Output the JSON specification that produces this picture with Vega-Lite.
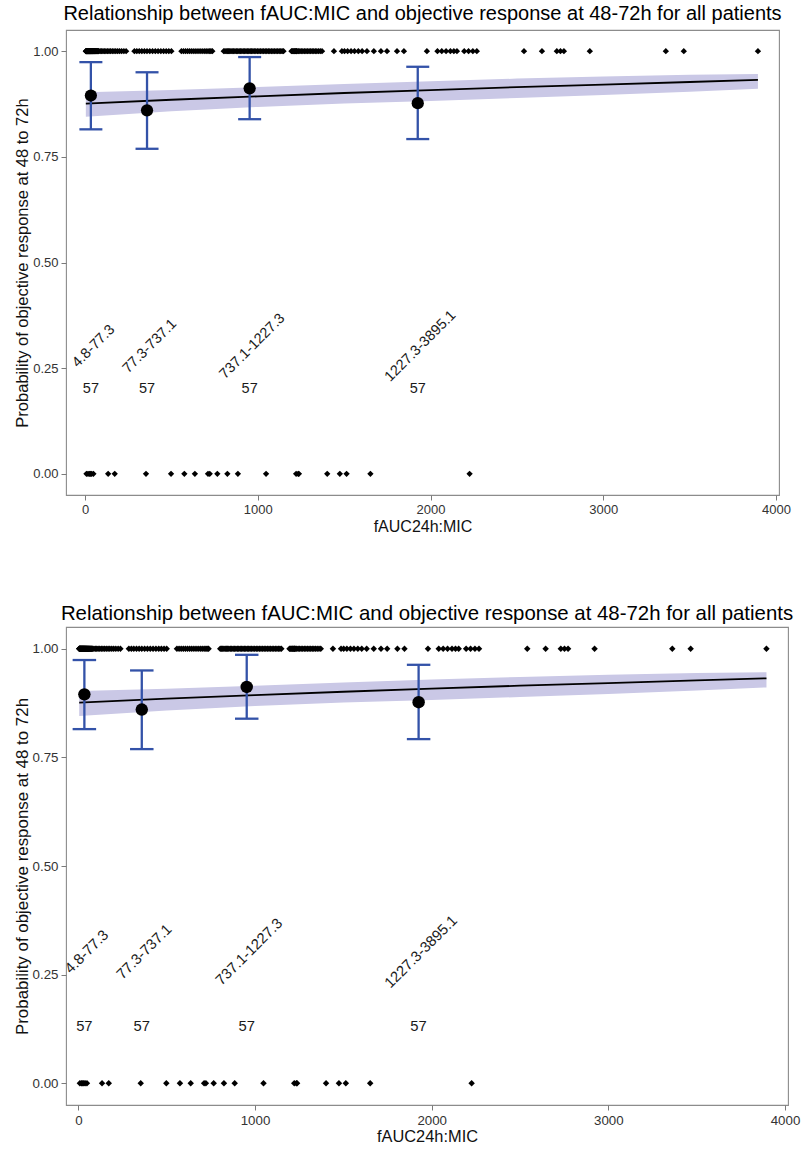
{
  "$schema": "https://vega.github.io/schema/vega-lite/v6.json",
  "padding": {"left": 12, "top": 3, "right": 2, "bottom": 3},
  "background": "white",
  "datasets": {
    "obs": [
      {"f":4.8,"r":1},{"f":5.9,"r":1},{"f":7.1,"r":1},{"f":8.0,"r":1},{"f":9.2,"r":1},{"f":10.1,"r":1},{"f":11.3,"r":1},{"f":12.4,"r":1},{"f":13.6,"r":1},{"f":14.5,"r":1},
      {"f":15.7,"r":1},{"f":16.8,"r":1},{"f":17.9,"r":1},{"f":19.1,"r":1},{"f":20.2,"r":1},{"f":21.4,"r":1},{"f":22.5,"r":1},{"f":23.7,"r":1},{"f":24.8,"r":1},{"f":26.0,"r":1},
      {"f":27.1,"r":1},{"f":28.3,"r":1},{"f":29.4,"r":1},{"f":30.6,"r":1},{"f":31.8,"r":1},{"f":33.1,"r":1},{"f":34.2,"r":1},{"f":35.5,"r":1},{"f":36.7,"r":1},{"f":38.0,"r":1},
      {"f":39.4,"r":1},{"f":40.8,"r":1},{"f":42.1,"r":1},{"f":43.6,"r":1},{"f":45.0,"r":1},{"f":46.5,"r":1},{"f":48.1,"r":1},{"f":49.7,"r":1},{"f":51.3,"r":1},{"f":53.0,"r":1},
      {"f":54.8,"r":1},{"f":56.6,"r":1},{"f":58.5,"r":1},{"f":60.4,"r":1},{"f":62.5,"r":1},{"f":64.7,"r":1},{"f":67.0,"r":1},{"f":69.4,"r":1},{"f":72.0,"r":1},{"f":74.6,"r":1},
      {"f":77.3,"r":1},
      {"f":8.5,"r":0},{"f":17.3,"r":0},{"f":25.0,"r":0},{"f":31.2,"r":0},{"f":38.4,"r":0},{"f":48.7,"r":0},
      {"f":80,"r":1},{"f":88,"r":1},{"f":96,"r":1},{"f":104,"r":1},{"f":112,"r":1},{"f":121,"r":1},{"f":130,"r":1},{"f":139,"r":1},{"f":148,"r":1},{"f":158,"r":1},
      {"f":168,"r":1},{"f":178,"r":1},{"f":189,"r":1},{"f":200,"r":1},{"f":212,"r":1},{"f":225,"r":1},{"f":238,"r":1},
      {"f":286,"r":1},{"f":300,"r":1},{"f":314,"r":1},{"f":329,"r":1},{"f":344,"r":1},{"f":359,"r":1},{"f":375,"r":1},{"f":391,"r":1},{"f":407,"r":1},{"f":423,"r":1},
      {"f":439,"r":1},{"f":455,"r":1},{"f":470,"r":1},{"f":485,"r":1},{"f":500,"r":1},
      {"f":558,"r":1},{"f":570,"r":1},{"f":582,"r":1},{"f":594,"r":1},{"f":606,"r":1},{"f":618,"r":1},{"f":630,"r":1},{"f":642,"r":1},{"f":654,"r":1},{"f":666,"r":1},
      {"f":678,"r":1},{"f":690,"r":1},{"f":701,"r":1},{"f":712,"r":1},{"f":722,"r":1},{"f":729,"r":1},{"f":737.1,"r":1},
      {"f":134,"r":0},{"f":172,"r":0},{"f":353,"r":0},{"f":498,"r":0},{"f":575,"r":0},{"f":636,"r":0},{"f":712,"r":0},{"f":722,"r":0},
      {"f":803,"r":1},{"f":810,"r":1},{"f":817,"r":1},{"f":824,"r":1},{"f":831,"r":1},{"f":838,"r":1},{"f":845,"r":1},{"f":852,"r":1},{"f":860,"r":1},{"f":868,"r":1},
      {"f":876,"r":1},{"f":884,"r":1},{"f":892,"r":1},{"f":900,"r":1},{"f":908,"r":1},{"f":916,"r":1},{"f":924,"r":1},{"f":932,"r":1},{"f":940,"r":1},{"f":948,"r":1},
      {"f":956,"r":1},{"f":964,"r":1},{"f":972,"r":1},{"f":980,"r":1},{"f":989,"r":1},{"f":998,"r":1},{"f":1007,"r":1},{"f":1016,"r":1},{"f":1025,"r":1},{"f":1034,"r":1},
      {"f":1043,"r":1},{"f":1052,"r":1},{"f":1061,"r":1},{"f":1070,"r":1},{"f":1079,"r":1},{"f":1088,"r":1},{"f":1097,"r":1},{"f":1106,"r":1},{"f":1115,"r":1},{"f":1124,"r":1},
      {"f":1133,"r":1},{"f":1141,"r":1},{"f":1149,"r":1},
      {"f":1195,"r":1},{"f":1200,"r":1},{"f":1205,"r":1},{"f":1210,"r":1},{"f":1214,"r":1},{"f":1218,"r":1},{"f":1222,"r":1},{"f":1225,"r":1},{"f":1227.3,"r":1},
      {"f":766,"r":0},{"f":824,"r":0},{"f":885,"r":0},{"f":1048,"r":0},{"f":1222,"r":0},
      {"f":1236,"r":1},{"f":1244,"r":1},{"f":1252,"r":1},{"f":1261,"r":1},{"f":1270,"r":1},{"f":1279,"r":1},{"f":1288,"r":1},{"f":1297,"r":1},{"f":1306,"r":1},{"f":1315,"r":1},
      {"f":1324,"r":1},{"f":1333,"r":1},{"f":1342,"r":1},{"f":1352,"r":1},{"f":1362,"r":1},{"f":1372,"r":1},
      {"f":1441,"r":1},{"f":1487,"r":1},{"f":1502,"r":1},{"f":1520,"r":1},{"f":1540,"r":1},{"f":1560,"r":1},{"f":1582,"r":1},{"f":1604,"r":1},
      {"f":1632,"r":1},{"f":1672,"r":1},{"f":1713,"r":1},{"f":1748,"r":1},{"f":1806,"r":1},{"f":1846,"r":1},{"f":1979,"r":1},
      {"f":2040,"r":1},{"f":2065,"r":1},{"f":2090,"r":1},{"f":2115,"r":1},{"f":2135,"r":1},{"f":2153,"r":1},
      {"f":2195,"r":1},{"f":2220,"r":1},{"f":2245,"r":1},{"f":2268,"r":1},{"f":2541,"r":1},{"f":2645,"r":1},
      {"f":2731,"r":1},{"f":2752,"r":1},{"f":2772,"r":1},{"f":2922,"r":1},{"f":3362,"r":1},{"f":3466,"r":1},{"f":3895.1,"r":1},
      {"f":1234,"r":0},{"f":1238,"r":0},{"f":1402,"r":0},{"f":1475,"r":0},{"f":1514,"r":0},{"f":1652,"r":0},{"f":2226,"r":0}
    ],
    "fit": [
      {"f":4.8,"p":0.876,"lo":0.845,"hi":0.903},
      {"f":500,"p":0.885,"lo":0.858,"hi":0.908},
      {"f":1000,"p":0.893,"lo":0.868,"hi":0.915},
      {"f":1500,"p":0.901,"lo":0.876,"hi":0.922},
      {"f":2000,"p":0.908,"lo":0.882,"hi":0.929},
      {"f":2500,"p":0.915,"lo":0.889,"hi":0.935},
      {"f":3000,"p":0.921,"lo":0.896,"hi":0.940},
      {"f":3500,"p":0.927,"lo":0.904,"hi":0.944},
      {"f":3895.1,"p":0.932,"lo":0.911,"hi":0.946}
    ],
    "bins": [
      {"f":34,"p":0.895,"lo":0.815,"hi":0.974,"range":"4.8-77.3","n":"57"},
      {"f":359,"p":0.860,"lo":0.769,"hi":0.950,"range":"77.3-737.1","n":"57"},
      {"f":953,"p":0.912,"lo":0.839,"hi":0.986,"range":"737.1-1227.3","n":"57"},
      {"f":1926,"p":0.877,"lo":0.792,"hi":0.963,"range":"1227.3-3895.1","n":"57"}
    ]
  },
  "spacing": 68,
  "resolve": {"scale": {"x": "independent", "y": "independent"}},
  "vconcat": [
    {
      "width": 713,
      "height": 465,
      "title": {"text": "Relationship between fAUC:MIC and objective response at 48-72h for all patients", "fontSize": 20, "fontWeight": "normal", "color": "#000", "frame": "group", "anchor": "middle", "offset": 6},
      "layer": [
        {
          "data": {"name": "fit"},
          "mark": {"type": "area", "color": "#CAC8E6", "opacity": 1},
          "encoding": {
            "x": {"field": "f", "type": "quantitative", "title": "fAUC24h:MIC", "scale": {"domain": [-110, 4017], "nice": false, "zero": false},
                  "axis": {"values": [0, 1000, 2000, 3000, 4000], "format": "d", "labelFlush": false, "labelFontSize": 13, "titleFontSize": 16, "tickSize": 5, "labelPadding": 3, "titlePadding": 2}},
            "y": {"field": "lo", "type": "quantitative", "title": "Probability of objective response at 48 to 72h", "scale": {"domain": [-0.05, 1.05], "nice": false, "zero": false},
                  "axis": {"values": [0, 0.25, 0.5, 0.75, 1], "format": ".2f", "labelFontSize": 13, "titleFontSize": 16.5, "tickSize": 5, "labelPadding": 3, "titlePadding": 2}},
            "y2": {"field": "hi"}
          }
        },
        {
          "data": {"name": "fit"},
          "mark": {"type": "line", "color": "#000", "strokeWidth": 1.8},
          "encoding": {
            "x": {"field": "f", "type": "quantitative", "title": "fAUC24h:MIC"},
            "y": {"field": "p", "type": "quantitative", "title": "Probability of objective response at 48 to 72h"}
          }
        },
        {
          "data": {"name": "obs"},
          "mark": {"type": "point", "shape": "diamond", "filled": true, "size": 40, "color": "#000", "opacity": 1},
          "encoding": {
            "x": {"field": "f", "type": "quantitative", "title": "fAUC24h:MIC"},
            "y": {"field": "r", "type": "quantitative", "title": "Probability of objective response at 48 to 72h"}
          }
        },
        {
          "data": {"name": "bins"},
          "mark": {"type": "rule", "color": "#3352A8", "strokeWidth": 2.3},
          "encoding": {
            "x": {"field": "f", "type": "quantitative", "title": "fAUC24h:MIC"},
            "y": {"field": "lo", "type": "quantitative", "title": "Probability of objective response at 48 to 72h"},
            "y2": {"field": "hi"}
          }
        },
        {
          "data": {"name": "bins"},
          "mark": {"type": "tick", "orient": "horizontal", "size": 23, "thickness": 2.3, "color": "#3352A8", "opacity": 1},
          "encoding": {
            "x": {"field": "f", "type": "quantitative", "title": "fAUC24h:MIC"},
            "y": {"field": "lo", "type": "quantitative", "title": "Probability of objective response at 48 to 72h"}
          }
        },
        {
          "data": {"name": "bins"},
          "mark": {"type": "tick", "orient": "horizontal", "size": 23, "thickness": 2.3, "color": "#3352A8", "opacity": 1},
          "encoding": {
            "x": {"field": "f", "type": "quantitative", "title": "fAUC24h:MIC"},
            "y": {"field": "hi", "type": "quantitative", "title": "Probability of objective response at 48 to 72h"}
          }
        },
        {
          "data": {"name": "bins"},
          "mark": {"type": "circle", "size": 150, "color": "#000", "opacity": 1},
          "encoding": {
            "x": {"field": "f", "type": "quantitative", "title": "fAUC24h:MIC"},
            "y": {"field": "p", "type": "quantitative", "title": "Probability of objective response at 48 to 72h"}
          }
        },
        {
          "data": {"name": "bins"},
          "mark": {"type": "text", "angle": 315, "fontSize": 14.5, "align": "center", "baseline": "middle", "dx": 4, "color": "#1a1a1a"},
          "encoding": {
            "x": {"field": "f", "type": "quantitative", "title": "fAUC24h:MIC"},
            "y": {"datum": 0.295, "type": "quantitative", "title": "Probability of objective response at 48 to 72h"},
            "text": {"field": "range"}
          }
        },
        {
          "data": {"name": "bins"},
          "mark": {"type": "text", "fontSize": 14.5, "align": "center", "baseline": "middle", "color": "#1a1a1a"},
          "encoding": {
            "x": {"field": "f", "type": "quantitative", "title": "fAUC24h:MIC"},
            "y": {"datum": 0.20, "type": "quantitative", "title": "Probability of objective response at 48 to 72h"},
            "text": {"field": "n"}
          }
        }
      ]
    },
    {
      "width": 722,
      "height": 478,
      "title": {"text": "Relationship between fAUC:MIC and objective response at 48-72h for all patients", "fontSize": 20.4, "fontWeight": "normal", "color": "#000", "frame": "group", "anchor": "middle", "offset": 3},
      "layer": [
        {
          "data": {"name": "fit"},
          "mark": {"type": "area", "color": "#CAC8E6", "opacity": 1},
          "encoding": {
            "x": {"field": "f", "type": "quantitative", "title": "fAUC24h:MIC", "scale": {"domain": [-70, 4017], "nice": false, "zero": false},
                  "axis": {"values": [0, 1000, 2000, 3000, 4000], "format": "d", "labelFlush": false, "labelFontSize": 13.3, "titleFontSize": 16.4, "tickSize": 5, "labelPadding": 3, "titlePadding": 2}},
            "y": {"field": "lo", "type": "quantitative", "title": "Probability of objective response at 48 to 72h", "scale": {"domain": [-0.05, 1.05], "nice": false, "zero": false},
                  "axis": {"values": [0, 0.25, 0.5, 0.75, 1], "format": ".2f", "labelFontSize": 13.3, "titleFontSize": 16.9, "tickSize": 5, "labelPadding": 3, "titlePadding": 1}},
            "y2": {"field": "hi"}
          }
        },
        {
          "data": {"name": "fit"},
          "mark": {"type": "line", "color": "#000", "strokeWidth": 1.8},
          "encoding": {
            "x": {"field": "f", "type": "quantitative", "title": "fAUC24h:MIC"},
            "y": {"field": "p", "type": "quantitative", "title": "Probability of objective response at 48 to 72h"}
          }
        },
        {
          "data": {"name": "obs"},
          "mark": {"type": "point", "shape": "diamond", "filled": true, "size": 42, "color": "#000", "opacity": 1},
          "encoding": {
            "x": {"field": "f", "type": "quantitative", "title": "fAUC24h:MIC"},
            "y": {"field": "r", "type": "quantitative", "title": "Probability of objective response at 48 to 72h"}
          }
        },
        {
          "data": {"name": "bins"},
          "mark": {"type": "rule", "color": "#3352A8", "strokeWidth": 2.3},
          "encoding": {
            "x": {"field": "f", "type": "quantitative", "title": "fAUC24h:MIC"},
            "y": {"field": "lo", "type": "quantitative", "title": "Probability of objective response at 48 to 72h"},
            "y2": {"field": "hi"}
          }
        },
        {
          "data": {"name": "bins"},
          "mark": {"type": "tick", "orient": "horizontal", "size": 23.5, "thickness": 2.3, "color": "#3352A8", "opacity": 1},
          "encoding": {
            "x": {"field": "f", "type": "quantitative", "title": "fAUC24h:MIC"},
            "y": {"field": "lo", "type": "quantitative", "title": "Probability of objective response at 48 to 72h"}
          }
        },
        {
          "data": {"name": "bins"},
          "mark": {"type": "tick", "orient": "horizontal", "size": 23.5, "thickness": 2.3, "color": "#3352A8", "opacity": 1},
          "encoding": {
            "x": {"field": "f", "type": "quantitative", "title": "fAUC24h:MIC"},
            "y": {"field": "hi", "type": "quantitative", "title": "Probability of objective response at 48 to 72h"}
          }
        },
        {
          "data": {"name": "bins"},
          "mark": {"type": "circle", "size": 155, "color": "#000", "opacity": 1},
          "encoding": {
            "x": {"field": "f", "type": "quantitative", "title": "fAUC24h:MIC"},
            "y": {"field": "p", "type": "quantitative", "title": "Probability of objective response at 48 to 72h"}
          }
        },
        {
          "data": {"name": "bins"},
          "mark": {"type": "text", "angle": 315, "fontSize": 14.8, "align": "center", "baseline": "middle", "dx": 4, "color": "#1a1a1a"},
          "encoding": {
            "x": {"field": "f", "type": "quantitative", "title": "fAUC24h:MIC"},
            "y": {"datum": 0.295, "type": "quantitative", "title": "Probability of objective response at 48 to 72h"},
            "text": {"field": "range"}
          }
        },
        {
          "data": {"name": "bins"},
          "mark": {"type": "text", "fontSize": 14.8, "align": "center", "baseline": "middle", "color": "#1a1a1a"},
          "encoding": {
            "x": {"field": "f", "type": "quantitative", "title": "fAUC24h:MIC"},
            "y": {"datum": 0.13, "type": "quantitative", "title": "Probability of objective response at 48 to 72h"},
            "text": {"field": "n"}
          }
        }
      ]
    }
  ],
  "config": {
    "font": "Liberation Sans",
    "view": {"stroke": "#8c8c8c", "strokeWidth": 1.1},
    "axis": {"grid": false, "domain": false, "tickColor": "#7a7a7a", "labelColor": "#333333", "titleColor": "#111111", "titleFontWeight": "normal", "labelFont": "Liberation Sans", "titleFont": "Liberation Sans"},
    "title": {"font": "Liberation Sans"},
    "text": {"font": "Liberation Sans"}
  }
}
